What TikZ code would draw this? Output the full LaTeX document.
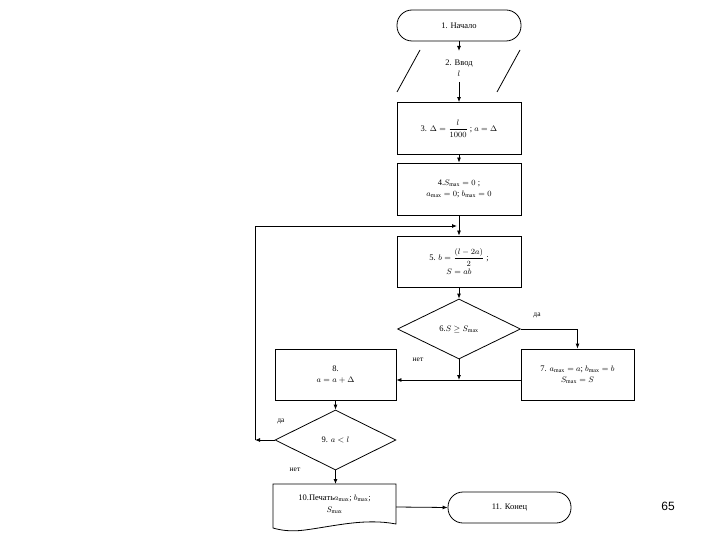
\documentclass[tikz,border=0pt]{standalone}
\usepackage{amsmath}
\usepackage{fontspec}
\setmainfont{Liberation Serif}
\usetikzlibrary{shapes.geometric,arrows.meta}
\begin{document}
\begin{tikzpicture}[x=1pt,y=-1pt,line width=0.8pt,
  every node/.style={font=\fontsize{8.5}{10.5}\selectfont, align=center, inner sep=0pt},
  box/.style={draw, minimum width=124pt, minimum height=52pt},
  term/.style={draw, rounded corners=15pt, minimum width=124pt, minimum height=31pt},
  dia/.style={draw, diamond, aspect=2.05, minimum width=123pt, minimum height=60pt},
  arr/.style={-{Latex[length=5pt,width=4pt]}},
  lbl/.style={font=\fontsize{7.5}{8}\selectfont}]
\useasboundingbox (0,0) rectangle (720,540);
\node[term] (n1) at (459,25.5) {1. Начало};
\node (n2) at (459,68) {2. Ввод\\ $l$};
\draw (397,92) -- (420,50) (497,92) -- (520,50);
\coordinate (i2t) at (459,51);
\coordinate (i2b) at (459,82);
\node[box] (n3) at (459,128.5) {3. $\Delta=\dfrac{l}{1000}$ ; $a=\Delta$};
\node[box] (n4) at (459,189) {4.$S_{\max}=0$ ;\\ $a_{\max}=0$; $b_{\max}=0$};
\node[box, minimum height=51pt] (n5) at (459,261.5) {5. $b=\dfrac{(l-2a)}{2}$ ;\\[1pt] $S=ab$};
\node[dia] (n6) at (459,329) {6.$S\ge S_{\max}$};
\node[draw, minimum width=113pt, minimum height=51pt] (n7) at (577.5,374.5) {7. $a_{\max}=a$; $b_{\max}=b$\\ $S_{\max}=S$};
\node[draw, minimum width=121pt, minimum height=51pt] (n8) at (335.5,374.5) {8.\\ $a=a+\Delta$};
\node[dia, minimum width=121pt] (n9) at (335.5,440) {9. $a<l$};
\node[draw, term, minimum width=123pt] (n11) at (509.5,507.5) {11. Конец};
\node (n10) at (334.5,504) {10.Печать$a_{\max}$; $b_{\max}$;\\[2pt] $S_{\max}$};
\draw (273,484) -- (396,484) -- (396,524) .. controls (365,518) and (335,526) .. (305,530) .. controls (290,532) and (280,530) .. (273,528) -- cycle;
\node (t65) at (668,506) {\fontspec{Liberation Sans}\fontsize{12}{14}\selectfont 65};
\node[lbl] at (537,315) {да};
\node[lbl] at (418,360) {нет};
\node[lbl] at (281,421) {да};
\node[lbl] at (295,470) {нет};
\coordinate (m) at (459,380);
\coordinate (l1) at (255,440);
\coordinate (l2) at (255,226);
\coordinate (l3) at (459,226);
\draw[arr] (n1) -- (i2t);
\draw[arr] (i2b) -- (n3);
\draw[arr] (n3) -- (n4);
\draw[arr] (n4) -- (n5);
\draw[arr] (n5) -- (n6);
\draw[arr] (n6.east) -| (n7.north);
\draw[arr] (n6.south) -- (m);
\draw[arr] (n7.west |- m) -- (n8.east |- m);
\draw[arr] (n8) -- (n9);
\draw[arr] (n9.west) -- (l1);
\draw[arr] (l1) -- (l2) -- ([xshift=-2pt]l3);
\draw[arr] (n9.south) -- (335.5,484);
\draw[arr] (396,507) -- (n11.west);
\end{tikzpicture}
\end{document}
